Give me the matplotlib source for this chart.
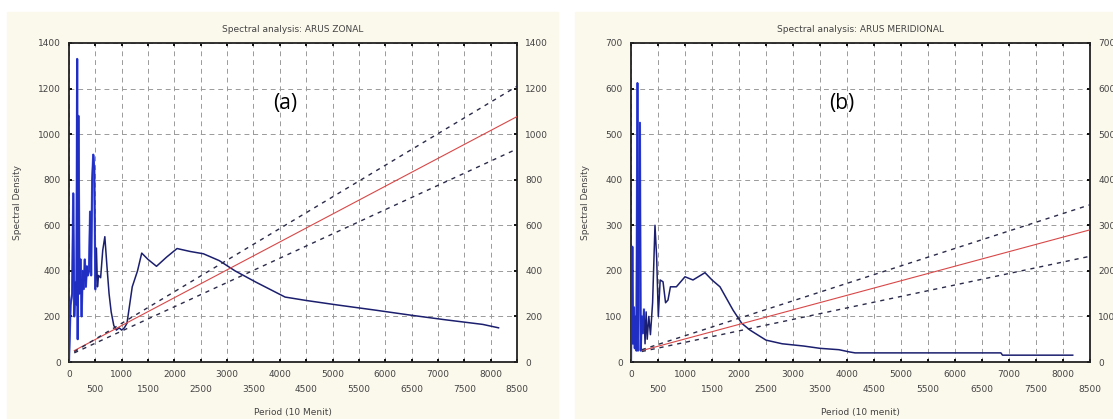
import matplotlib
matplotlib.use("Agg")
import matplotlib.pyplot as plt
from matplotlib.patches import Rectangle

# -------------------------
# Data
# -------------------------

# (a) ARUS ZONAL
zonal_period = [0, 30, 60, 80, 100, 120, 140, 155, 165, 180, 200, 220, 240, 260,
                280, 300, 320, 340, 360, 380, 400, 420, 440, 460, 480, 500, 520,
                540, 560, 600, 640, 680, 720, 760, 800, 850, 900, 950, 1000,
                1050, 1100, 1150, 1200, 1300, 1380, 1500, 1660, 1850, 2050,
                2300, 2550, 2850, 3150, 3550, 4100, 4500, 5100, 5800, 6500,
                7150, 7850, 8150]
zonal_density = [0, 250, 300, 740, 200, 350, 250, 1330, 100, 1080, 300, 450,
                 200, 400, 320, 450, 330, 420, 380, 400, 660, 380, 800, 910,
                 850, 320, 500, 330, 380, 370, 490, 550, 420, 300, 220, 160,
                 140, 150, 140, 150, 170, 250, 330, 400, 478, 450, 420, 460,
                 498, 485, 475, 445, 400, 350, 285, 270, 250, 228, 205, 185,
                 165, 150]
zonal_fit_x = [100, 8500]
zonal_fit_y = [50, 1077]
zonal_upper_y = [45, 1210]
zonal_lower_y = [40, 935]

# (b) ARUS MERIDIONAL
merid_period = [0, 25, 40, 55, 70, 85, 100, 119, 130, 165, 180, 200, 220, 240,
                260, 280, 300, 330, 360, 400, 444, 475, 506, 540, 593, 640,
                685, 730, 778, 840, 1000, 1148, 1370, 1500, 1648, 1889, 2050,
                2204, 2500, 2800, 3200, 3500, 3850, 4050, 4150, 5000, 6000,
                6850, 6880, 8180]
merid_density = [0, 253, 40, 120, 30, 100, 25, 612, 25, 525, 25, 100, 63, 115,
                 40, 110, 50, 100, 60, 130, 300, 230, 100, 180, 176, 130, 136,
                 165, 165, 165, 187, 180, 196, 180, 165, 114, 85, 70, 48, 40,
                 35, 30, 27, 22, 20, 20, 20, 20, 15, 15]
merid_fit_x = [200, 8500]
merid_fit_y = [25, 290]
merid_upper_y = [27, 345]
merid_lower_y = [23, 232]

# x labels sit on two staggered rows: thousands on top, the 500s below
x_ticks = list(range(0, 8501, 500))

W, H = 1113, 419
CREAM = "#fbf8ec"
NAVY = "#1b1f6e"
BLUE = "#2233d8"
TEXT = "#444444"

fig = plt.figure(figsize=(W / 100, H / 100), dpi=100, facecolor="white")

# cream panel backgrounds, kept behind the axes
fig.patches.append(Rectangle((7 / W, 0), (558 - 7) / W, (419 - 12) / H,
                             transform=fig.transFigure, color=CREAM, zorder=-10))
fig.patches.append(Rectangle((575 / W, 0), (W - 575) / W, (419 - 12) / H,
                             transform=fig.transFigure, color=CREAM, zorder=-10))


def draw_panel(rect, period, density, blue_until, fit_x, fit_y, upper_y, lower_y,
               y_max, y_step, title, xlabel, tag, tag_x):
    ax = fig.add_axes(rect)
    ax.set_zorder(5)
    ax.set_facecolor("white")

    ax.plot(period, density, color=NAVY, lw=1.1, zorder=3)
    n_blue = sum(1 for p in period if p <= blue_until)
    ax.plot(period[:n_blue], density[:n_blue], color=BLUE, lw=1.6,
            alpha=0.8, zorder=4)

    ax.plot(fit_x, fit_y, color="#d84848", lw=0.8, zorder=3)
    for band in (upper_y, lower_y):
        ax.plot(fit_x, band, color="#2a2a4a", lw=1.0,
                linestyle=(0, (3, 3.5)), zorder=3)

    ax.set_xlim(0, 8500)
    ax.set_ylim(0, y_max)
    ax.set_xticks(x_ticks)
    ax.set_xticklabels([str(t) if t % 1000 == 0 else "" for t in x_ticks])
    ax.set_yticks(range(0, y_max + 1, y_step))

    # second row of x labels for the 500s
    for t in x_ticks:
        if t % 1000:
            ax.annotate(str(t), xy=(t, 0), xycoords=("data", "axes fraction"),
                        xytext=(0, -23), textcoords="offset pixels",
                        ha="center", va="top", fontsize=6.5, color=TEXT,
                        annotation_clip=False)

    ax.grid(True, color="#9a9a9a", lw=0.7, linestyle=(0, (5, 4)))
    ax.set_axisbelow(True)

    for spine in ax.spines.values():
        spine.set_linewidth(1.3)
        spine.set_color("#222222")

    ax.tick_params(direction="in", length=2.5, width=1.3,
                   top=True, right=True, labelright=True, labelsize=6.5,
                   labelcolor=TEXT, pad=6)

    ax.set_title(title, fontsize=6.5, color=TEXT, pad=8)
    ax.set_xlabel(xlabel, fontsize=6.5, color=TEXT)
    ax.xaxis.set_label_coords(0.5, -0.145)
    ax.set_ylabel("Spectral Density", fontsize=6.5, color=TEXT, labelpad=11)
    ax.text(tag_x, 0.81, tag, transform=ax.transAxes, fontsize=15,
            family="Open Sans", ha="center", va="center", color="black")
    return ax


# -------------------------
# Panels
# -------------------------

bottom = (419 - 362) / H
height = (362 - 43) / H

draw_panel([69 / W, bottom, (517 - 69) / W, height],
           zonal_period, zonal_density, 500,
           zonal_fit_x, zonal_fit_y, zonal_upper_y, zonal_lower_y,
           1400, 200, "Spectral analysis: ARUS ZONAL", "Period (10 Menit)",
           "(a)", 0.482)

draw_panel([631 / W, bottom, (1090 - 631) / W, height],
           merid_period, merid_density, 250,
           merid_fit_x, merid_fit_y, merid_upper_y, merid_lower_y,
           700, 100, "Spectral analysis: ARUS MERIDIONAL", "Period (10 menit)",
           "(b)", 0.46)

fig.savefig("out.png", dpi=100, facecolor="white")
